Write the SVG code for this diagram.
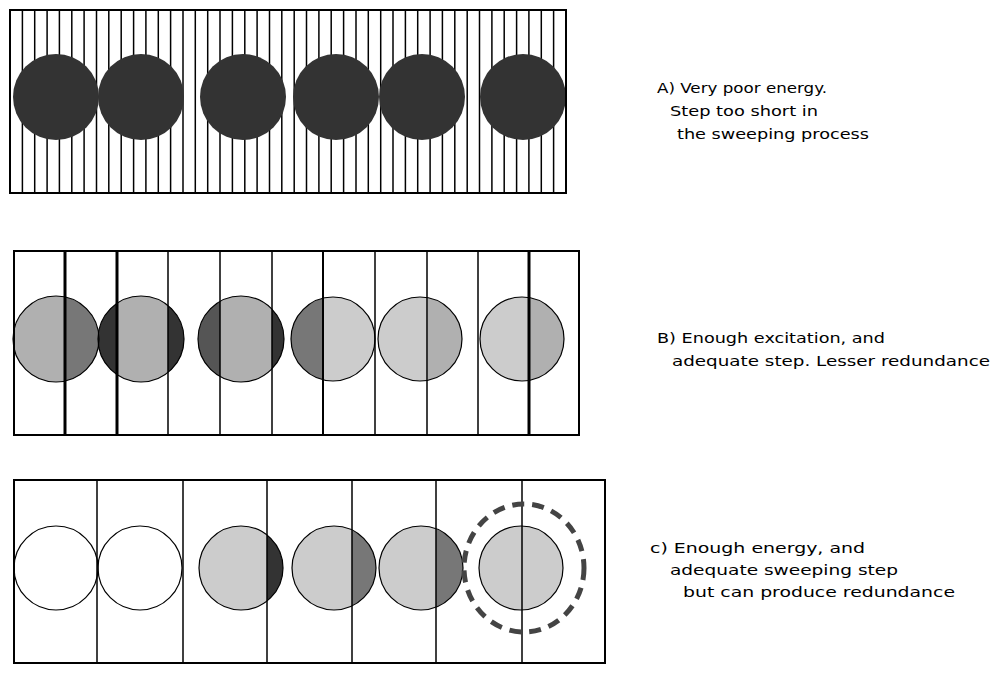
<svg xmlns="http://www.w3.org/2000/svg" width="1000" height="674" viewBox="0 0 1000 674">
<style>
.frame{fill:none;stroke:#000;stroke-width:2}
.ln{stroke:#000;stroke-width:1.5}
.thick{stroke:#000;stroke-width:3}
.co{fill:none;stroke:#000;stroke-width:1.2}
.lbl{font-family:"DejaVu Sans","Liberation Sans",sans-serif;font-size:14px;fill:#000}
</style>
<defs>
<clipPath id="b1"><circle cx="56" cy="339" r="43"/></clipPath>
<clipPath id="b2"><circle cx="141" cy="339" r="43"/></clipPath>
<clipPath id="b3"><circle cx="241" cy="339" r="43"/></clipPath>
<clipPath id="b4"><circle cx="333" cy="339" r="42"/></clipPath>
<clipPath id="b5"><circle cx="420" cy="339" r="42"/></clipPath>
<clipPath id="b6"><circle cx="522" cy="339" r="42"/></clipPath>
<clipPath id="c3"><circle cx="241" cy="568" r="42"/></clipPath>
<clipPath id="c4"><circle cx="334" cy="568" r="42"/></clipPath>
<clipPath id="c5"><circle cx="421" cy="568" r="42"/></clipPath>
</defs>
<rect width="1000" height="674" fill="#fff"/>

<g id="panelA">
<rect x="10" y="10" width="556" height="183" fill="#fff"/>
<g class="ln">
<line x1="22.4" y1="10" x2="22.4" y2="193"/><line x1="34.7" y1="10" x2="34.7" y2="193"/><line x1="47.1" y1="10" x2="47.1" y2="193"/><line x1="59.4" y1="10" x2="59.4" y2="193"/><line x1="71.8" y1="10" x2="71.8" y2="193"/><line x1="84.1" y1="10" x2="84.1" y2="193"/><line x1="96.5" y1="10" x2="96.5" y2="193"/><line x1="108.8" y1="10" x2="108.8" y2="193"/><line x1="121.2" y1="10" x2="121.2" y2="193"/><line x1="133.6" y1="10" x2="133.6" y2="193"/><line x1="145.9" y1="10" x2="145.9" y2="193"/><line x1="158.3" y1="10" x2="158.3" y2="193"/><line x1="170.6" y1="10" x2="170.6" y2="193"/><line x1="183" y1="10" x2="183" y2="193"/><line x1="195.3" y1="10" x2="195.3" y2="193"/><line x1="207.7" y1="10" x2="207.7" y2="193"/><line x1="220" y1="10" x2="220" y2="193"/><line x1="232.4" y1="10" x2="232.4" y2="193"/><line x1="244.8" y1="10" x2="244.8" y2="193"/><line x1="257.1" y1="10" x2="257.1" y2="193"/><line x1="269.5" y1="10" x2="269.5" y2="193"/><line x1="281.8" y1="10" x2="281.8" y2="193"/><line x1="294.2" y1="10" x2="294.2" y2="193"/><line x1="306.5" y1="10" x2="306.5" y2="193"/><line x1="318.9" y1="10" x2="318.9" y2="193"/><line x1="331.2" y1="10" x2="331.2" y2="193"/><line x1="343.6" y1="10" x2="343.6" y2="193"/><line x1="356" y1="10" x2="356" y2="193"/><line x1="368.3" y1="10" x2="368.3" y2="193"/><line x1="380.7" y1="10" x2="380.7" y2="193"/><line x1="393" y1="10" x2="393" y2="193"/><line x1="405.4" y1="10" x2="405.4" y2="193"/><line x1="417.7" y1="10" x2="417.7" y2="193"/><line x1="430.1" y1="10" x2="430.1" y2="193"/><line x1="442.4" y1="10" x2="442.4" y2="193"/><line x1="454.8" y1="10" x2="454.8" y2="193"/><line x1="467.2" y1="10" x2="467.2" y2="193"/><line x1="479.5" y1="10" x2="479.5" y2="193"/><line x1="491.9" y1="10" x2="491.9" y2="193"/><line x1="504.2" y1="10" x2="504.2" y2="193"/><line x1="516.6" y1="10" x2="516.6" y2="193"/><line x1="528.9" y1="10" x2="528.9" y2="193"/><line x1="541.3" y1="10" x2="541.3" y2="193"/><line x1="553.6" y1="10" x2="553.6" y2="193"/>
</g>
<g fill="#333">
<circle cx="56" cy="97" r="43"/><circle cx="141" cy="97" r="43"/><circle cx="243" cy="97" r="43"/><circle cx="336" cy="97" r="43"/><circle cx="422" cy="97" r="43"/><circle cx="523" cy="97" r="43"/>
</g>
<rect class="frame" x="10" y="10" width="556" height="183"/>
</g>

<g id="panelB">
<g clip-path="url(#b1)"><rect x="0" y="290" width="65" height="100" fill="#b0b0b0"/><rect x="65" y="290" width="50" height="100" fill="#777"/></g>
<g clip-path="url(#b2)"><rect x="90" y="290" width="27" height="100" fill="#333"/><rect x="117" y="290" width="51" height="100" fill="#b0b0b0"/><rect x="168" y="290" width="30" height="100" fill="#333"/></g>
<g clip-path="url(#b3)"><rect x="190" y="290" width="30" height="100" fill="#555"/><rect x="220" y="290" width="52" height="100" fill="#b0b0b0"/><rect x="272" y="290" width="30" height="100" fill="#333"/></g>
<g clip-path="url(#b4)"><rect x="285" y="290" width="39" height="100" fill="#777"/><rect x="324" y="290" width="60" height="100" fill="#ccc"/></g>
<g clip-path="url(#b5)"><rect x="370" y="290" width="58" height="100" fill="#ccc"/><rect x="428" y="290" width="40" height="100" fill="#b0b0b0"/></g>
<g clip-path="url(#b6)"><rect x="475" y="290" width="55" height="100" fill="#ccc"/><rect x="530" y="290" width="40" height="100" fill="#b0b0b0"/></g>
<circle class="co" cx="56" cy="339" r="43"/><circle class="co" cx="141" cy="339" r="43"/><circle class="co" cx="241" cy="339" r="43"/><circle class="co" cx="333" cy="339" r="42"/><circle class="co" cx="420" cy="339" r="42"/><circle class="co" cx="522" cy="339" r="42"/>
<line class="thick" x1="65" y1="251" x2="65" y2="435"/>
<line class="thick" x1="117" y1="251" x2="117" y2="435"/>
<line class="ln" x1="168" y1="251" x2="168" y2="435"/>
<line class="ln" x1="220" y1="251" x2="220" y2="435"/>
<line class="ln" x1="272" y1="251" x2="272" y2="435"/>
<line class="thick" x1="323" y1="251" x2="323" y2="435" style="stroke-width:2"/>
<line class="ln" x1="375" y1="251" x2="375" y2="435"/>
<line class="ln" x1="427" y1="251" x2="427" y2="435"/>
<line class="ln" x1="478" y1="251" x2="478" y2="435"/>
<line class="thick" x1="529" y1="251" x2="529" y2="435"/>
<rect class="frame" x="14" y="251" width="565" height="184"/>
</g>

<g id="panelC">
<circle class="co" cx="56" cy="568" r="42"/><circle class="co" cx="140" cy="568" r="42"/>
<g clip-path="url(#c3)"><rect x="195" y="520" width="72" height="100" fill="#ccc"/><rect x="267" y="520" width="30" height="100" fill="#333"/></g>
<g clip-path="url(#c4)"><rect x="290" y="520" width="62" height="100" fill="#ccc"/><rect x="352" y="520" width="30" height="100" fill="#777"/></g>
<g clip-path="url(#c5)"><rect x="375" y="520" width="61" height="100" fill="#ccc"/><rect x="436" y="520" width="30" height="100" fill="#777"/></g>
<circle cx="521" cy="568" r="42" fill="#ccc"/>
<circle class="co" cx="241" cy="568" r="42"/><circle class="co" cx="334" cy="568" r="42"/><circle class="co" cx="421" cy="568" r="42"/><circle class="co" cx="521" cy="568" r="42"/>
<g class="ln">
<line x1="97" y1="480" x2="97" y2="663"/><line x1="183" y1="480" x2="183" y2="663"/><line x1="267" y1="480" x2="267" y2="663"/><line x1="352" y1="480" x2="352" y2="663"/><line x1="436" y1="480" x2="436" y2="663"/><line x1="522" y1="480" x2="522" y2="663"/>
</g>
<ellipse cx="524" cy="568" rx="60" ry="64" fill="none" stroke="#444" stroke-width="5" stroke-dasharray="12 8"/>
<rect class="frame" x="14" y="480" width="591" height="183"/>
</g>

<g id="labels" class="lbl">
<text x="657" y="93" textLength="170" lengthAdjust="spacingAndGlyphs">A) Very poor energy.</text>
<text x="670" y="116" textLength="148" lengthAdjust="spacingAndGlyphs">Step too short  in</text>
<text x="677" y="139" textLength="192" lengthAdjust="spacingAndGlyphs">the sweeping process</text>
<text x="657" y="343" textLength="228" lengthAdjust="spacingAndGlyphs">B) Enough excitation, and</text>
<text x="672" y="366" textLength="318" lengthAdjust="spacingAndGlyphs">adequate step. Lesser redundance</text>
<text x="650" y="553" textLength="215" lengthAdjust="spacingAndGlyphs">c) Enough energy, and</text>
<text x="670" y="575" textLength="228" lengthAdjust="spacingAndGlyphs">adequate sweeping  step</text>
<text x="683" y="597" textLength="272" lengthAdjust="spacingAndGlyphs">but can produce redundance</text>
</g>
</svg>
